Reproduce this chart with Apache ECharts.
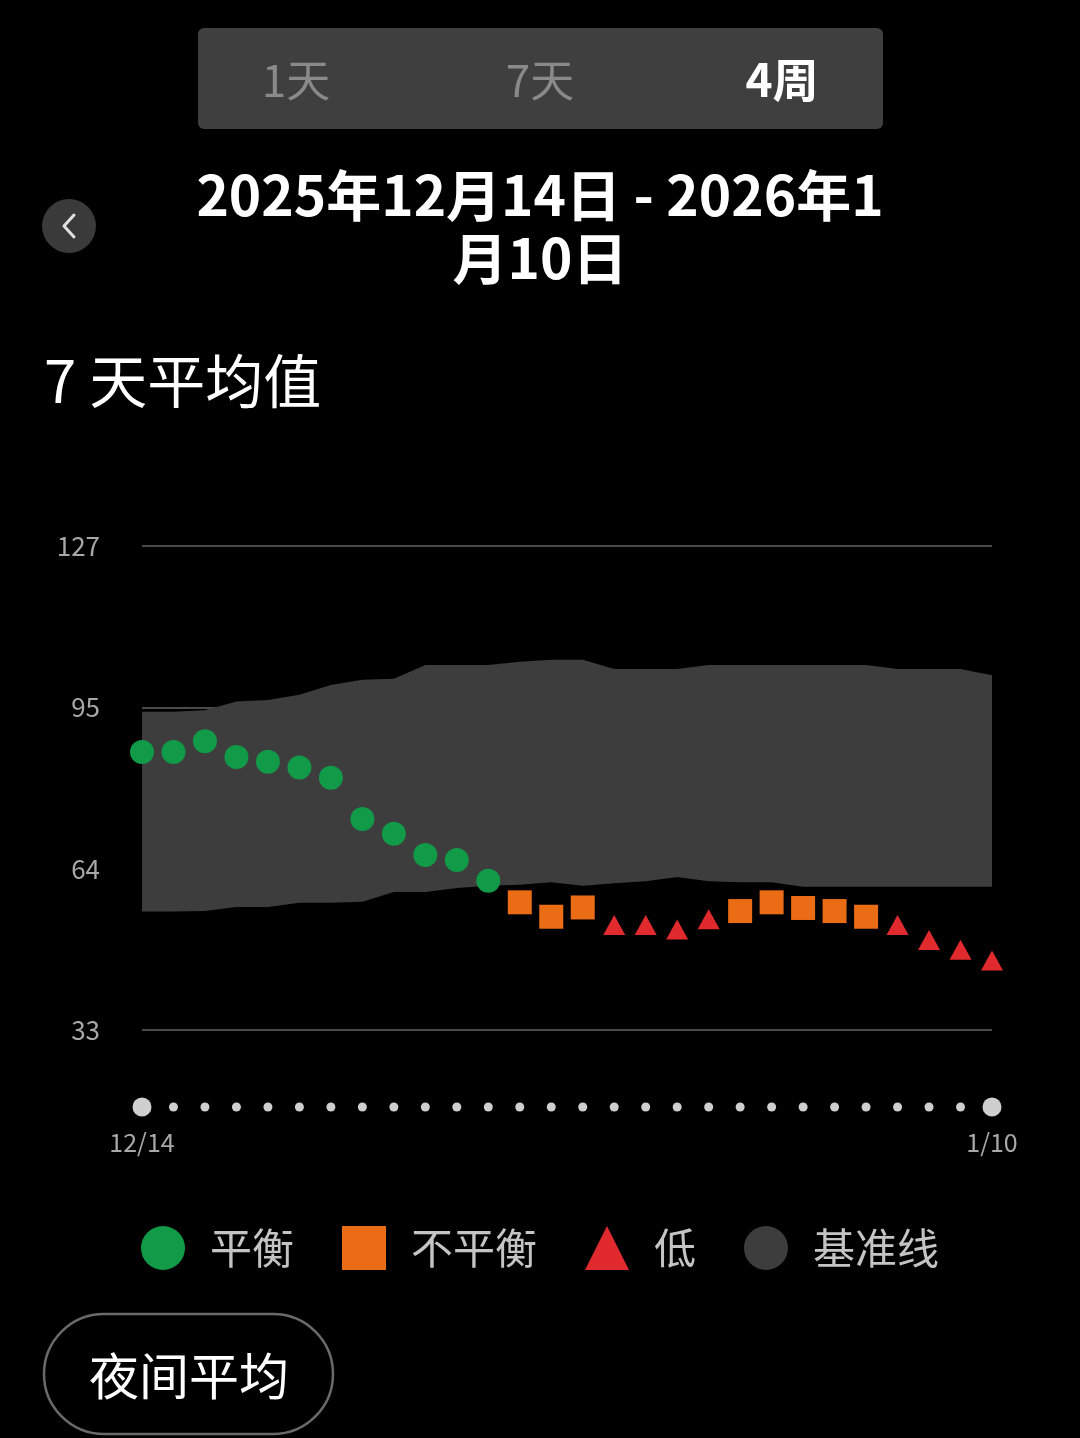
<!DOCTYPE html>
<html>
<head>
<meta charset="utf-8">
<script src="https://cdn.jsdelivr.net/npm/echarts@6/dist/echarts.min.js"></script>
<style>
html,body{margin:0;padding:0;background:#000;}
#chart{width:1080px;height:1438px;}
</style>
</head>
<body>
<div id="chart"></div>
<script>
// ---- data ----
const dates = ['12/14','12/15','12/16','12/17','12/18','12/19','12/20','12/21','12/22','12/23','12/24','12/25','12/26','12/27','12/28','12/29','12/30','12/31','1/1','1/2','1/3','1/4','1/5','1/6','1/7','1/8','1/9','1/10'];
const balanced   = [87.0, 87.0, 89.1, 86.0, 85.1, 84.0, 82.0, 74.0, 71.1, 67.0, 66.0, 62.0, null, null, null, null, null, null, null, null, null, null, null, null, null, null, null, null];
const unbalanced = [null, null, null, null, null, null, null, null, null, null, null, null, 57.8, 55.0, 56.8, null, null, null, null, 56.1, 57.8, 56.7, 56.1, 55.0, null, null, null, null];
const low        = [null, null, null, null, null, null, null, null, null, null, null, null, null, null, null, 53.4, 53.4, 52.5, 54.5, null, null, null, null, null, 53.4, 50.5, 48.6, 46.5];
const baseLower  = [56.0, 56.0, 56.1, 56.9, 56.9, 57.7, 57.7, 57.9, 59.8, 59.8, 60.6, 61.0, 61.2, 61.7, 61.0, 61.5, 61.9, 62.7, 61.9, 61.7, 61.7, 60.8, 60.8, 60.8, 60.8, 60.8, 60.8, 60.8];
const baseUpper  = [94.8, 94.8, 95.1, 96.8, 97.1, 98.1, 100.0, 101.0, 101.2, 103.9, 103.9, 103.9, 104.5, 104.9, 104.9, 103.1, 103.1, 103.1, 103.9, 103.9, 103.9, 103.9, 103.9, 103.9, 103.1, 103.1, 103.1, 101.9];
const yMin = 33, yMax = 127;
const yTickCount = 3; // intervals between 33, 64, 95, 127
const legendNames = ['平衡', '不平衡', '低', '基准线'];
const tabs = ['1天', '7天', '4周'];
const dateTitle = ['2025年12月14日 - 2026年1', '月10日'];
const sectionTitle = '7 天平均值';
const buttonText = '夜间平均';

// ---- chart ----
const chart = echarts.init(document.getElementById('chart'), null, {renderer: 'canvas'});
const FONT = '"Noto Sans CJK SC", "Noto Sans", sans-serif';
const bandDiff = baseUpper.map((u, i) => +(u - baseLower[i]).toFixed(2));
const lastIdx = dates.length - 1;

const option = {
  backgroundColor: '#000',
  animation: false,
  textStyle: {fontFamily: FONT},
  grid: [
    {left: 142, right: 88, top: 546, height: 484, containLabel: false},
    {left: 142, right: 88, top: 1097, height: 20, containLabel: false}
  ],
  xAxis: [
    {gridIndex: 0, type: 'category', data: dates, boundaryGap: false, show: false},
    {gridIndex: 1, type: 'category', data: dates, boundaryGap: false,
     axisLine: {show: false}, axisTick: {show: false}, splitLine: {show: false},
     axisLabel: {
       interval: (idx) => idx === 0 || idx === lastIdx,
       showMinLabel: true, showMaxLabel: true,
       color: '#a8a8a8', fontSize: 25, margin: 13, fontFamily: FONT
     }}
  ],
  yAxis: [
    {gridIndex: 0, type: 'value', min: yMin, max: yMax, interval: (yMax - yMin) / yTickCount,
     axisLine: {show: false}, axisTick: {show: false},
     axisLabel: {color: '#a8a8a8', fontSize: 26, margin: 42, fontFamily: FONT,
       formatter: (v) => String(Math.floor(v + 1e-6))},
     splitLine: {show: true, lineStyle: {color: '#4a4a4a', width: 2}}},
    {gridIndex: 1, type: 'value', min: -1, max: 1, show: false}
  ],
  legend: {
    data: legendNames.map((n, i) => ({name: n, icon: ['circle', 'rect', 'triangle', 'circle'][i]})),
    left: 136, top: 1221,
    itemWidth: 44, itemHeight: 44, itemGap: 48,
    textStyle: {color: '#c4c4c4', fontSize: 42, fontFamily: FONT, padding: [0, 0, 0, 20]},
    selectedMode: false
  },
  series: [
    {name: 'baseLow', type: 'line', xAxisIndex: 0, yAxisIndex: 0, stack: 'band', data: baseLower,
     symbol: 'none', lineStyle: {opacity: 0, width: 0}, silent: true, z: 1},
    {name: '基准线', type: 'line', xAxisIndex: 0, yAxisIndex: 0, stack: 'band', data: bandDiff,
     symbol: 'none', lineStyle: {width: 0, opacity: 0}, itemStyle: {color: '#3d3d3d'},
     areaStyle: {color: '#3d3d3d', opacity: 1}, silent: true, z: 1},
    {name: '平衡', type: 'scatter', xAxisIndex: 0, yAxisIndex: 0, data: balanced,
     symbol: 'circle', symbolSize: 24, itemStyle: {color: '#119a48', opacity: 1}, z: 3},
    {name: '不平衡', type: 'scatter', xAxisIndex: 0, yAxisIndex: 0, data: unbalanced,
     symbol: 'rect', symbolSize: 24, itemStyle: {color: '#ea6c15', opacity: 1}, z: 3},
    {name: '低', type: 'scatter', xAxisIndex: 0, yAxisIndex: 0, data: low,
     symbol: 'triangle', symbolSize: [22, 20], itemStyle: {color: '#e02a2e', opacity: 1}, z: 3},
    {name: 'dayDots', type: 'scatter', xAxisIndex: 1, yAxisIndex: 1, data: dates.map(() => 0),
     symbol: 'circle',
     symbolSize: (val, p) => (p.dataIndex === 0 || p.dataIndex === lastIdx) ? 19 : 9,
     itemStyle: {color: '#cfcfcf', opacity: 1}, silent: true}
  ],
  graphic: [
    // segmented control
    {type: 'rect', shape: {x: 198, y: 28, width: 685, height: 101, r: 6}, style: {fill: '#3f3f3f'}},
    {type: 'text', x: 296, y: 80, style: {text: tabs[0], fill: '#8a8a8a', font: '44px ' + FONT, textAlign: 'center', textVerticalAlign: 'middle'}},
    {type: 'text', x: 540, y: 80, style: {text: tabs[1], fill: '#8a8a8a', font: '44px ' + FONT, textAlign: 'center', textVerticalAlign: 'middle'}},
    {type: 'text', x: 782, y: 80, style: {text: tabs[2], fill: '#ffffff', font: 'bold 46px ' + FONT, textAlign: 'center', textVerticalAlign: 'middle'}},
    // back button
    {type: 'circle', shape: {cx: 69, cy: 226, r: 27}, style: {fill: '#3a3a3a'}},
    {type: 'polyline', shape: {points: [[74, 215], [64, 226], [74, 237]]}, style: {stroke: '#e0e0e0', lineWidth: 3, fill: null, lineCap: 'round', lineJoin: 'round'}},
    // date title
    {type: 'text', x: 540, y: 195, style: {text: dateTitle[0], fill: '#ffffff', font: 'bold 55px ' + FONT, textAlign: 'center', textVerticalAlign: 'middle'}},
    {type: 'text', x: 540, y: 258, style: {text: dateTitle[1], fill: '#ffffff', font: 'bold 55px ' + FONT, textAlign: 'center', textVerticalAlign: 'middle'}},
    // section title
    {type: 'text', x: 44, y: 381, style: {text: sectionTitle, fill: '#ffffff', font: '58px ' + FONT, textAlign: 'left', textVerticalAlign: 'middle'}},
    // bottom button
    {type: 'rect', shape: {x: 44, y: 1314, width: 289, height: 120, r: 60}, style: {fill: 'none', stroke: '#6a6a6a', lineWidth: 2.5}},
    {type: 'text', x: 189, y: 1376, style: {text: buttonText, fill: '#ffffff', font: '50px ' + FONT, textAlign: 'center', textVerticalAlign: 'middle'}}
  ]
};
chart.setOption(option);
</script>
</body>
</html>
